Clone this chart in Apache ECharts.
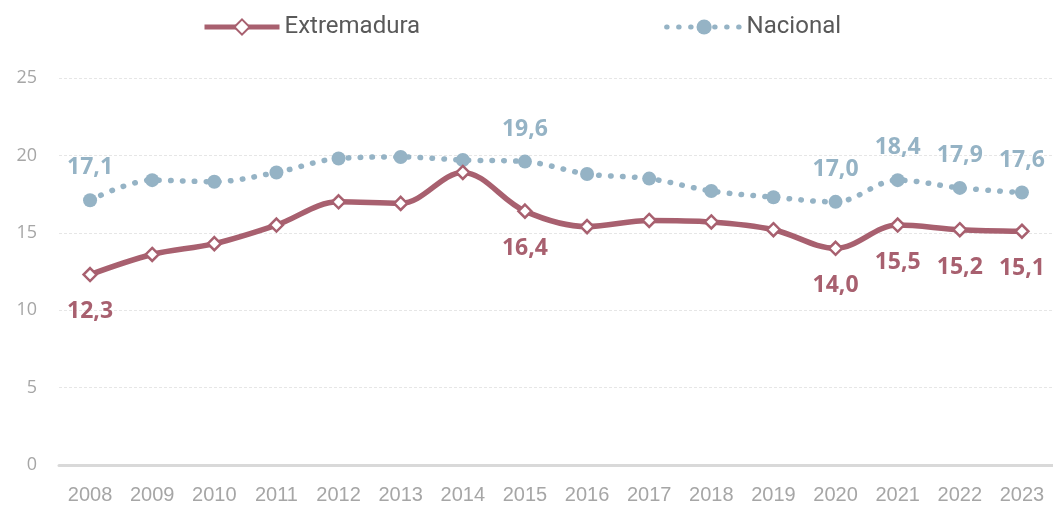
<!DOCTYPE html>
<html>
<head>
<meta charset="utf-8">
<script src="https://cdn.jsdelivr.net/npm/echarts@6/dist/echarts.min.js"></script>
<style>
  html, body { margin: 0; padding: 0; background: #fff; }
  #chart { width: 1053px; height: 506px; }
</style>
</head>
<body>
<div id="chart"></div>
<script>
const years = ['2008','2009','2010','2011','2012','2013','2014','2015','2016','2017','2018','2019','2020','2021','2022','2023'];
const extremadura = [12.3, 13.6, 14.3, 15.5, 17.0, 16.9, 18.9, 16.4, 15.4, 15.8, 15.7, 15.2, 14.0, 15.5, 15.2, 15.1];
const nacional = [17.1, 18.4, 18.3, 18.9, 19.8, 19.9, 19.7, 19.6, 18.8, 18.5, 17.7, 17.3, 17.0, 18.4, 17.9, 17.6];
// years whose value is written next to the point
const labelledYears = ['2008', '2015', '2020', '2021', '2022', '2023'];
const yTicks = [0, 5, 10, 15, 20, 25];

const RED = '#a8606f';
const BLUE = '#95b3c5';

const fmt = v => v.toFixed(1).replace('.', ',');

function withLabels(values, position, color) {
  return values.map((v, i) => ({
    value: v,
    label: {
      show: labelledYears.includes(years[i]),
      position: position,
      distance: position === 'top' ? 14 : 18,
      formatter: p => fmt(p.value),
      color: color,
      fontFamily: 'Open Sans',
      fontWeight: 'bold',
      fontSize: 23
    }
  }));
}

const chart = echarts.init(document.getElementById('chart'), null, { renderer: 'canvas' });
chart.setOption({
  animation: false,
  backgroundColor: '#ffffff',
  legend: {
    top: 10,
    left: 197,
    itemWidth: 75,
    itemHeight: 19,
    itemGap: 244,
    lineStyle: { width: 5 },
    textStyle: { color: '#595959', fontSize: 24, fontFamily: 'Roboto' },
    data: ['Extremadura', 'Nacional']
  },
  grid: { left: 59, right: 0, top: 78, bottom: 41 },
  xAxis: {
    type: 'category',
    data: years,
    boundaryGap: true,
    axisLine: { show: true, lineStyle: { color: '#d9d9d9', width: 3 } },
    axisTick: { show: false },
    axisLabel: {
      color: '#a6a6a6',
      fontSize: 20,
      fontFamily: '"Liberation Sans", Arial, sans-serif',
      margin: 20
    },
    splitLine: { show: false }
  },
  yAxis: {
    type: 'value',
    min: yTicks[0],
    max: yTicks[yTicks.length - 1],
    interval: 5,
    axisLine: { show: false },
    axisTick: { show: false },
    axisLabel: {
      color: '#a6a6a6',
      fontSize: 18,
      fontFamily: 'Open Sans',
      margin: 22
    },
    splitLine: { lineStyle: { color: '#e6e6e6', width: 1, type: [3, 2] } }
  },
  series: [
    {
      name: 'Extremadura',
      type: 'line',
      smooth: 0.35,
      data: withLabels(extremadura, 'bottom', RED),
      lineStyle: { color: RED, width: 5.5 },
      itemStyle: { color: '#ffffff', borderColor: RED, borderWidth: 2.5 },
      symbol: 'diamond',
      symbolSize: 13,
      showAllSymbol: true,
      z: 3
    },
    {
      name: 'Nacional',
      type: 'line',
      smooth: 0.35,
      data: withLabels(nacional, 'top', BLUE),
      lineStyle: { color: BLUE, width: 5.5, type: [0.5, 11.5], cap: 'round' },
      itemStyle: { color: BLUE, borderColor: BLUE, borderWidth: 0 },
      symbol: 'circle',
      symbolSize: 14,
      showAllSymbol: true,
      z: 2
    }
  ]
});
</script>
</body>
</html>
